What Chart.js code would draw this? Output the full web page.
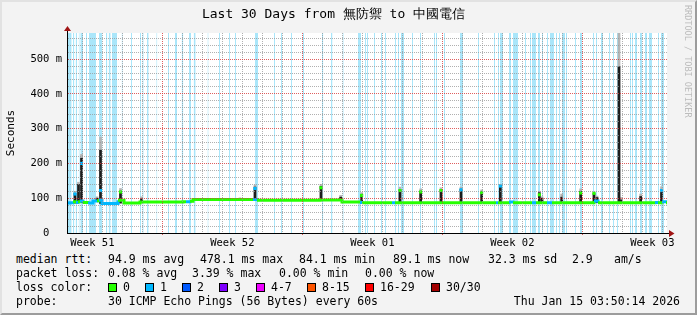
<!DOCTYPE html>
<html>
<head>
<meta charset="utf-8">
<script src="https://cdn.jsdelivr.net/npm/chart.js@4.4.0/dist/chart.umd.min.js"></script>
<style>
  html, body { margin: 0; padding: 0; }
  body {
    width: 697px; height: 315px; position: relative; overflow: hidden;
    background: #f3f3f3; font-family: 'DejaVu Sans Mono', monospace;
  }
  canvas { position: absolute; left: 0; top: 0; }
  #frame {
    position: absolute; left: 0; top: 0; width: 697px; height: 315px; box-sizing: border-box;
    border-top: 2px solid #e2e2e2; border-left: 2px solid #e2e2e2;
    border-right: 2px solid #9c9c9c; border-bottom: 2px solid #9c9c9c;
  }
  .lg { position: absolute; font-size: 11.5px; line-height: 14px; white-space: pre; color: #000; }
  .box { position: absolute; width: 9px; height: 9px; box-sizing: border-box; border: 1px solid #000; }
  #credit {
    position: absolute; left: 683px; top: 5px; writing-mode: vertical-rl;
    font-size: 8.5px; line-height: 10px; color: #bcbcbc;
  }
</style>
</head>
<body>
<canvas id="chart" width="697" height="250"></canvas>
<div id="credit">RRDTOOL / TOBI OETIKER</div>

<div class="lg" style="left:16px;top:252px">median rtt:</div>
<div class="lg" style="left:108px;top:252px">94.9 ms avg</div>
<div class="lg" style="left:200px;top:252px">478.1 ms max</div>
<div class="lg" style="left:299px;top:252px">84.1 ms min</div>
<div class="lg" style="left:393px;top:252px">89.1 ms now</div>
<div class="lg" style="left:488px;top:252px">32.3 ms sd</div>
<div class="lg" style="left:572px;top:252px">2.9</div>
<div class="lg" style="left:614px;top:252px">am/s</div>

<div class="lg" style="left:16px;top:266px">packet loss:</div>
<div class="lg" style="left:108px;top:266px">0.08 % avg</div>
<div class="lg" style="left:192px;top:266px">3.39 % max</div>
<div class="lg" style="left:279px;top:266px">0.00 % min</div>
<div class="lg" style="left:365px;top:266px">0.00 % now</div>

<div class="lg" style="left:16px;top:280px">loss color:</div>
<div id="lossLegend"></div>

<div class="lg" style="left:16px;top:294px">probe:</div>
<div class="lg" style="left:108px;top:294px">30 ICMP Echo Pings (56 Bytes) every 60s</div>
<div class="lg" style="right:17px;top:294px">Thu Jan 15 03:50:14 2026</div>

<div id="frame"></div>

<script>
// time axis is in hours since the start of the 30 day window
const SPAN_HOURS = 720;
const Y_MAX = 575;
const FONT = "'DejaVu Sans Mono', monospace";

const weekLabels = ['Week 51', 'Week 52', 'Week 01', 'Week 02', 'Week 03'];
const weekLabelHours = [30.4, 198.4, 366.4, 534.4, 702.4];
const weekLineHours = [114.4, 282.4, 450.4, 618.4];
const firstMidnight = 18.4;

const lossLabels = ['0', '1', '2', '3', '4-7', '8-15', '16-29', '30/30'];
const lossColors = ['#26ff00', '#00b8ff', '#0059ff', '#7e00ff', '#ee00ff', '#ff5500', '#ff0000', '#a10000'];

// median rtt (ms), stepped, with the number of lost pings for each step
const medianHours = [0, 3.6, 7.2, 10.8, 13.2, 15.6, 19.2, 25.2, 31.2, 36, 38.4, 42, 61.2, 68.4, 87.6,
  139.2, 142.8, 147.6, 151.2, 223.2, 228, 303.6, 330, 351.6, 354, 390, 393.6, 514.8, 517.2,
  530.4, 535.2, 558, 562.8, 576, 582, 632.4, 637.2, 705.6, 709.2, 714, 718.8, 720];
const medianValues = [86, 87, 90, 88, 90, 92, 88, 86, 92, 93, 95, 85, 94, 86, 89,
  90, 90, 91, 96.5, 96, 94, 95, 89, 88, 87, 87, 87, 87, 87,
  89, 87, 87, 87, 87, 87, 92, 87, 88, 87, 90, 87, 87];
const medianLoss = [1, 1, 0, 1, 0, 1, 0, 1, 1, 0, 1, 1, 0, 0, 0,
  0, 1, 0, 0, 1, 0, 0, 0, 1, 0, 1, 0, 1, 0,
  1, 0, 1, 0, 1, 0, 1, 0, 1, 0, 1, 0, 0];

// spikes: smoke range and the median at the top of each
const spikeHours = [9.6, 13.8, 17.4, 36, 40.2, 64.2, 89.4, 207.6, 225.6, 304.8, 328.4, 353.6, 399.6, 424.4,
  448.8, 472.8, 497.6, 520, 566.8, 570, 593.6, 616.4, 632.4, 636, 662.4, 664.8, 688.4, 713.4];
const spikeLow = [86, 88, 88, 90, 85, 86, 88, 96, 94, 94, 95, 88, 87, 86,
  86, 86, 86, 87, 87, 87, 87, 87, 87, 87, 87, 87, 87, 88];
const spikeDark = [114, 140, 215, 100, 238, 120, 98, 97, 132, 134, 103, 111, 124, 120,
  124, 126, 118, 137, 116, 100, 103, 120, 114, 102, 478, 95, 105, 125];
const spikeLight = [120, 146, 226, 104, 276, 128, 104, 101, 138, 140, 108, 116, 132, 127,
  130, 132, 124, 140, 120, 104, 112, 127, 118, 106, 575, 102, 112, 133];
const spikeMedian = [112, null, 200, null, 122, 118, null, null, 128, 130, null, 108, 122, 118,
  122, 124, 116, 135, 110, null, null, 115, 114, null, null, null, null, 122];
const spikeLoss = [1, 0, 1, 0, 1, 0, 0, 0, 1, 0, 0, 0, 0, 0,
  0, 1, 0, 1, 0, 0, 0, 0, 0, 0, 0, 0, 0, 1];

// hours with packet loss (shaded full height)
const lossBands = [[0.6, 5.6], [7.2, 8.8], [10.4, 12], [14, 15.2], [16, 19.2], [22.8, 24], [26.4, 34.8],
  [38.4, 42.4], [46.8, 48.4], [50, 52.4], [54, 60], [65.6, 66.8], [76.8, 78], [87.6, 88.8], [90.4, 92],
  [96, 98], [107.2, 108.4], [121.2, 122.4], [129.6, 132], [137.6, 139.6], [146.4, 148.8], [152, 154.4],
  [168.6, 169.8], [182.4, 183.6], [194.4, 195.6], [201.6, 202.8], [225.6, 229.2], [248.4, 249.6],
  [256.8, 258], [268.8, 270], [282.8, 284.4], [306, 307.6], [316.8, 318.6], [330.6, 332], [349.2, 352.8],
  [357.6, 358.8], [360, 361.2], [368.4, 369.6], [376.8, 378], [381.6, 382.8], [393.6, 394.8],
  [397.2, 398.4], [400.8, 404.4], [414, 415.2], [423.6, 424.8], [440.4, 441.6], [442.8, 444],
  [452.4, 453.6], [471.6, 475.2], [493.2, 494.4], [512.4, 513.6], [517.2, 518.4], [519.6, 523.2],
  [530.4, 532.8], [535.2, 541.2], [549.6, 550.8], [555.6, 556.8], [558, 562.8], [565.2, 567.6],
  [570, 571.2], [576, 577.2], [579.6, 584.4], [586.8, 588], [590.4, 591.6], [594, 597.6], [598.8, 600],
  [609.6, 610.8], [615.6, 618], [631.2, 632.4], [634.8, 636], [640.8, 643.2], [650.4, 651.6],
  [655.2, 656.4], [660, 661.2], [675.6, 676.8], [678, 679.2], [681.6, 684], [687.6, 690], [693.6, 696],
  [698.4, 702], [709.2, 710.4], [712.8, 716.4]];

// legend boxes
const lossLegendX = [108, 145, 182, 219, 256, 307, 365, 431];
const lossLegend = document.getElementById('lossLegend');
lossLabels.forEach((label, i) => {
  const box = document.createElement('div');
  box.className = 'box';
  box.style.left = lossLegendX[i] + 'px';
  box.style.top = '283px';
  box.style.background = lossColors[i];
  lossLegend.appendChild(box);
  const txt = document.createElement('div');
  txt.className = 'lg';
  txt.style.left = (lossLegendX[i] + 15) + 'px';
  txt.style.top = '280px';
  txt.textContent = label;
  lossLegend.appendChild(txt);
});

const bandPoints = [];
lossBands.forEach(([a, b]) => {
  bandPoints.push({x: a, y: Y_MAX}, {x: b, y: Y_MAX}, {x: b, y: null});
});

const xTicks = [];
for (let h = firstMidnight; h < SPAN_HOURS; h += 24) xTicks.push(h);
weekLabelHours.forEach(h => xTicks.push(h));
xTicks.sort((a, b) => a - b);

const near = (list, v) => list.findIndex(h => Math.abs(h - v) < 0.01);

const capPoints = [];
const capColors = [];
spikeHours.forEach((h, i) => {
  if (spikeMedian[i] != null) {
    capPoints.push({x: h, y: spikeMedian[i]});
    capColors.push(lossColors[spikeLoss[i]]);
  }
});

const MINOR = 'rgba(150,150,150,0.75)';
const MAJOR = 'rgba(215,55,55,0.8)';

const plotBg = {
  id: 'plotBg',
  beforeDraw(chart) {
    const {ctx, chartArea: a} = chart;
    ctx.save();
    ctx.fillStyle = '#fff';
    ctx.fillRect(a.left, a.top, a.right - a.left, a.bottom - a.top);
    ctx.restore();
  }
};

const arrows = {
  id: 'arrows',
  afterDraw(chart) {
    const {ctx, chartArea: a} = chart;
    const x0 = Math.round(a.left) + 0.5;
    const y0 = Math.round(a.bottom) + 0.5;
    ctx.save();
    ctx.strokeStyle = '#000';
    ctx.lineWidth = 1;
    ctx.beginPath();
    ctx.moveTo(x0, a.top);
    ctx.lineTo(x0, a.top - 3);
    ctx.moveTo(a.right, y0);
    ctx.lineTo(a.right + 3, y0);
    ctx.stroke();
    ctx.fillStyle = '#a01414';
    ctx.beginPath();
    ctx.moveTo(x0 - 3.5, a.top - 2);
    ctx.lineTo(x0 + 3.5, a.top - 2);
    ctx.lineTo(x0, a.top - 7);
    ctx.closePath();
    ctx.fill();
    ctx.beginPath();
    ctx.moveTo(a.right + 2, y0 - 3.5);
    ctx.lineTo(a.right + 2, y0 + 3.5);
    ctx.lineTo(a.right + 7.5, y0);
    ctx.closePath();
    ctx.fill();
    ctx.restore();
  }
};

new Chart(document.getElementById('chart'), {
  type: 'line',
  data: {
    datasets: [
      {
        label: 'median',
        data: capPoints,
        showLine: false,
        pointStyle: 'rect',
        pointRadius: 2.2,
        pointBorderWidth: 0,
        pointBackgroundColor: capColors,
        order: 0
      },
      {
        label: 'median rtt',
        data: medianHours.map((h, i) => ({x: h, y: medianValues[i]})),
        stepped: true,
        borderWidth: 3,
        pointRadius: 0,
        borderColor: lossColors[0],
        segment: {
          borderColor: ctx => lossColors[medianLoss[ctx.p0DataIndex]]
        },
        order: 1
      },
      {
        type: 'bar',
        label: 'smoke dark',
        data: spikeHours.map((h, i) => ({x: h, y: [spikeLow[i], spikeDark[i]]})),
        backgroundColor: '#1c1c1c',
        barThickness: 2,
        grouped: false,
        order: 2
      },
      {
        type: 'bar',
        label: 'smoke',
        data: spikeHours.map((h, i) => ({x: h, y: [spikeLow[i], spikeLight[i]]})),
        backgroundColor: '#b4b4b4',
        barThickness: 2,
        grouped: false,
        order: 3
      },
      {
        label: 'loss',
        data: bandPoints,
        fill: 'origin',
        spanGaps: false,
        backgroundColor: '#aae6fa',
        borderColor: 'rgba(0,0,0,0)',
        borderWidth: 0,
        pointRadius: 0,
        order: 4
      }
    ]
  },
  options: {
    responsive: false,
    animation: false,
    events: [],
    layout: { padding: { left: 0, right: 30, top: 0, bottom: 0 } },
    plugins: {
      legend: { display: false },
      tooltip: { enabled: false },
      title: {
        display: true,
        text: 'Last 30 Days from 無防禦 to 中國電信',
        color: '#000',
        font: { family: FONT, size: 13, weight: 'normal' },
        padding: { top: 7, bottom: 10.4 }
      }
    },
    scales: {
      x: {
        type: 'linear',
        min: 0,
        max: SPAN_HOURS,
        offset: false,
        afterBuildTicks: s => { s.ticks = xTicks.map(v => ({value: v})); },
        afterFit: s => { s.height = 17; },
        grid: {
          z: 1,
          offset: false,
          lineWidth: 1,
          tickLength: 2,
          color: ctx => {
            const v = ctx.tick.value;
            if (near(weekLabelHours, v) >= 0) return 'rgba(0,0,0,0)';
            if (near(weekLineHours, v) >= 0) return MAJOR;
            return MINOR;
          },
          tickColor: ctx => near(weekLineHours, ctx.tick.value) >= 0 ? MAJOR : 'rgba(0,0,0,0)'
        },
        border: { z: 2, color: '#000', width: 1, dash: [1, 1] },
        ticks: {
          autoSkip: false,
          maxRotation: 0,
          padding: 2,
          color: '#000',
          font: { family: FONT, size: 10.5 },
          callback: v => {
            const i = near(weekLabelHours, v);
            return i >= 0 ? weekLabels[i] : '';
          }
        }
      },
      y: {
        type: 'linear',
        min: 0,
        max: Y_MAX,
        afterBuildTicks: s => {
          const t = [];
          for (let v = 0; v < Y_MAX; v += 20) t.push({value: v});
          s.ticks = t;
        },
        afterFit: s => { s.width = 67; },
        grid: {
          z: 1,
          drawTicks: false,
          lineWidth: 1,
          color: ctx => (ctx.tick.value % 100 === 0 ? MAJOR : MINOR)
        },
        border: { z: 2, color: '#000', width: 1, dash: [1, 1] },
        ticks: {
          autoSkip: false,
          padding: 5,
          color: '#000',
          font: { family: FONT, size: 10.5 },
          callback: v => {
            if (v % 100 !== 0) return '';
            return v === 0 ? '0  ' : v + ' m';
          }
        },
        title: {
          display: true,
          text: 'Seconds',
          color: '#000',
          font: { family: FONT, size: 11 },
          padding: { top: 4.5, bottom: 0 }
        }
      }
    }
  },
  plugins: [plotBg, arrows]
});
</script>
</body>
</html>
